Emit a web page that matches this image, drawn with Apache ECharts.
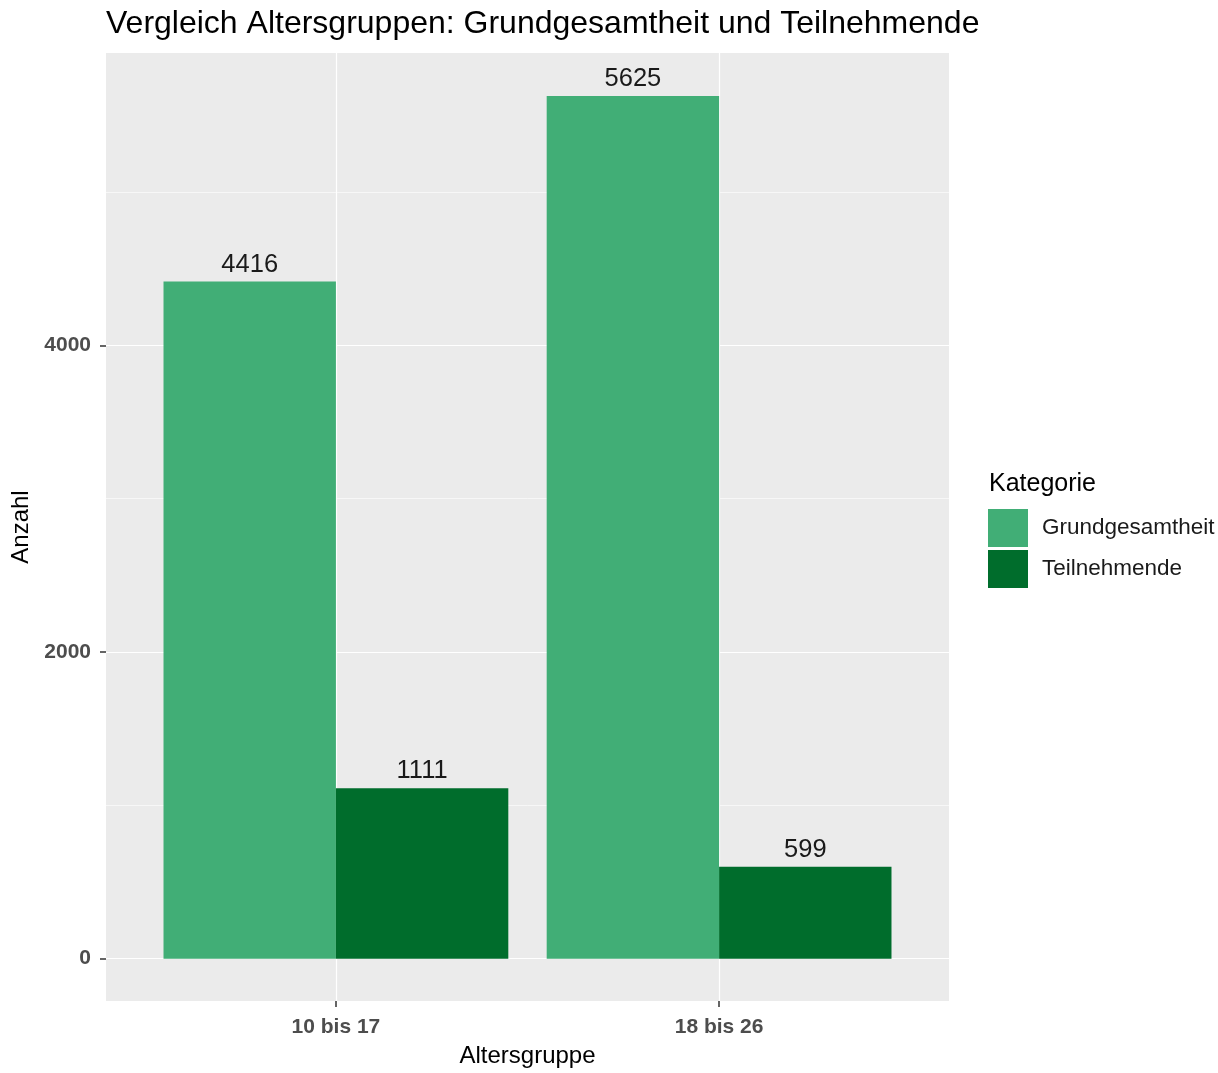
<!DOCTYPE html>
<html>
<head>
<meta charset="utf-8">
<script src="https://cdn.jsdelivr.net/npm/echarts@6/dist/echarts.min.js"></script>
<style>
html,body{margin:0;padding:0;background:#fff;}
#chart{width:1218px;height:1073px;}
</style>
</head>
<body>
<div id="chart"></div>
<script>
const categories = ['10 bis 17', '18 bis 26'];
const seriesNames = ['Grundgesamtheit', 'Teilnehmende'];
const grundgesamtheit = [4416, 5625];
const teilnehmende = [1111, 599];
const yMajorTicks = [0, 2000, 4000];
const yMinorTicks = [1000, 3000, 5000];

const FONT = '"Liberation Sans", Arial, sans-serif';
const chart = echarts.init(document.getElementById('chart'), null, {renderer: 'canvas'});

const catPos = categories.map((c, i) => i + 1);
const yMin = -276, yMax = 5906;

function toData(vals) { return vals.map((v, i) => [catPos[i], v]); }

const labelStyle = {
  show: true, position: 'top', distance: 4,
  fontFamily: FONT, fontSize: 25.5, color: '#1a1a1a',
  formatter: p => String(p.value[1])
};

chart.setOption({
  animation: false,
  backgroundColor: '#ffffff',
  title: [
    {text: 'Vergleich Altersgruppen: Grundgesamtheit und Teilnehmende', left: 106, top: 8, padding: 0,
     textStyle: {fontFamily: FONT, fontSize: 32, fontWeight: 'normal', color: '#000'}},
    {text: 'Kategorie', left: 989, top: 472, padding: 0,
     textStyle: {fontFamily: FONT, fontSize: 25, fontWeight: 'normal', color: '#000'}}
  ],
  legend: {
    orient: 'vertical', left: 988, top: 509, padding: 0,
    itemWidth: 40, itemHeight: 38, itemGap: 3,
    icon: 'rect',
    textStyle: {fontFamily: FONT, fontSize: 22.5, color: '#1a1a1a', padding: [0, 0, 0, 9]},
    data: seriesNames
  },
  grid: {left: 106, right: 269, top: 53, bottom: 70, show: true,
         backgroundColor: '#EBEBEB', borderWidth: 0, containLabel: false},
  xAxis: {
    type: 'value', min: 0.4, max: 2.6,
    name: 'Altersgruppe', nameLocation: 'middle', nameGap: 43,
    nameTextStyle: {fontFamily: FONT, fontSize: 24, color: '#000'},
    axisLine: {show: false, onZero: false},
    axisTick: {show: true, length: 6, customValues: catPos, lineStyle: {color: '#333', width: 1.5}},
    axisLabel: {customValues: catPos, margin: 16, fontFamily: FONT, fontSize: 21, fontWeight: 'bold', color: '#4D4D4D',
                formatter: v => categories[Math.round(v) - 1] || ''},
    splitLine: {show: true, lineStyle: {color: '#ffffff', width: 1.2}}
  },
  yAxis: [{
    type: 'value', min: yMin, max: yMax,
    name: 'Anzahl', nameLocation: 'middle', nameGap: 63, nameRotate: 90,
    nameTextStyle: {fontFamily: FONT, fontSize: 24, color: '#000'},
    axisLine: {show: false, onZero: false},
    axisTick: {show: true, length: 6, customValues: yMajorTicks, lineStyle: {color: '#333', width: 1.5}},
    axisLabel: {customValues: yMajorTicks, margin: 15, fontFamily: FONT, fontSize: 21, fontWeight: 'bold', color: '#4D4D4D',
                formatter: v => String(v)},
    splitLine: {show: true, lineStyle: {color: '#ffffff', width: 1.2}}
  }, {
    type: 'value', min: yMin, max: yMax, position: 'left',
    axisLine: {show: false, onZero: false},
    axisTick: {show: false, customValues: yMinorTicks},
    axisLabel: {show: false, customValues: yMinorTicks},
    splitLine: {show: true, lineStyle: {color: '#ffffff', width: 0.6}}
  }],
  series: [
    {name: seriesNames[0], type: 'bar', data: toData(grundgesamtheit),
     barWidth: 172.4, barGap: '0%', itemStyle: {color: '#41AE76'}, label: labelStyle},
    {name: seriesNames[1], type: 'bar', data: toData(teilnehmende),
     barWidth: 172.4, barGap: '0%', itemStyle: {color: '#006D2C'}, label: labelStyle}
  ]
});
</script>
</body>
</html>
